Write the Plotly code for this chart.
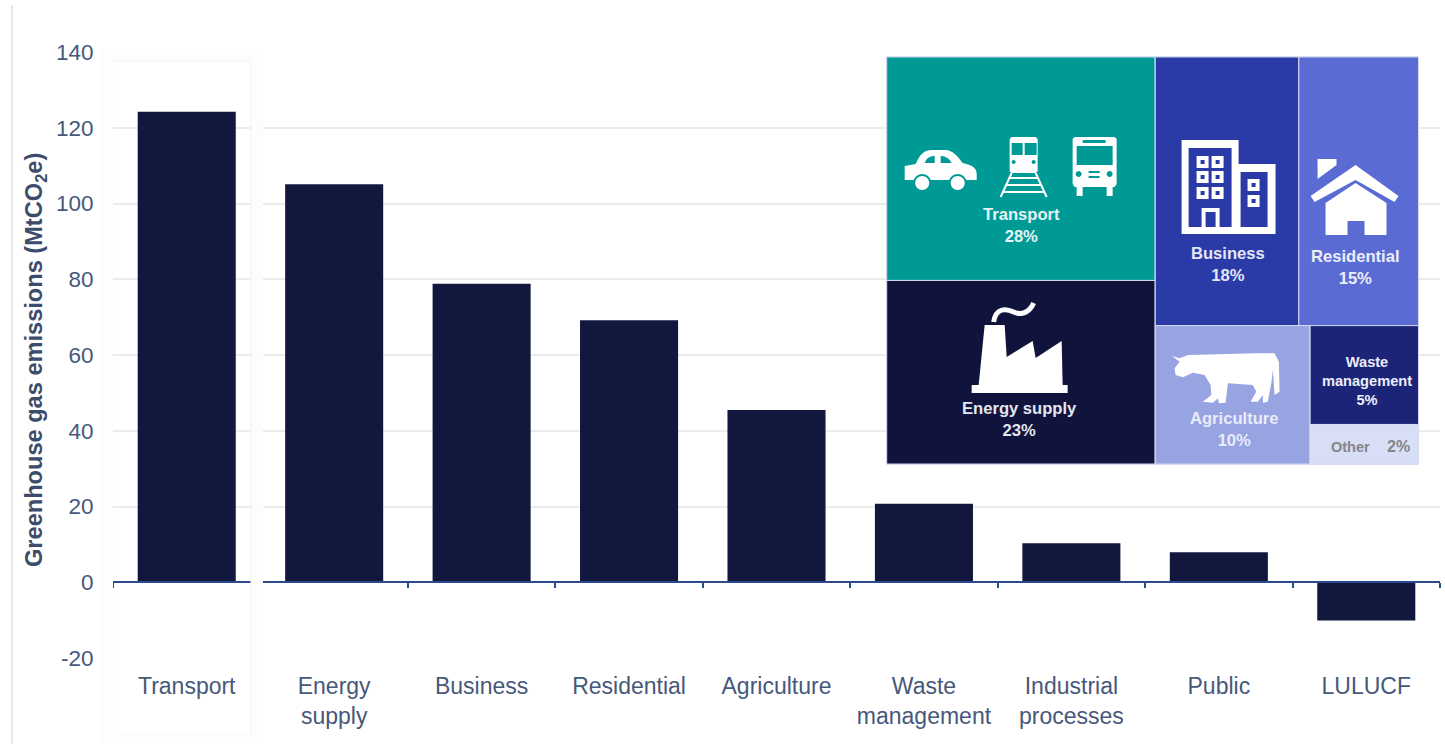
import re
import plotly.graph_objects as go

# Sector emissions, MtCO2e
categories = ["Transport", "Energy<br>supply", "Business", "Residential", "Agriculture",
              "Waste<br>management", "Industrial<br>processes", "Public", "LULUCF"]
emissions = [124.2, 105.1, 78.8, 69.2, 45.5, 20.7, 10.3, 7.9, -10.1]
y_ticks = [-20, 0, 20, 40, 60, 80, 100, 120, 140]
y_tick_labels = ["-20", "0", "20", "40", "60", "80", "100", "120", "140"]

# Share of total emissions, nested so that the tiling gives the sector blocks
share_ids = ["all", "left", "right", "Transport", "Energy supply", "upper", "lower",
             "Business", "Residential", "Agriculture", "minor", "Waste management", "Other"]
share_parents = ["", "all", "all", "left", "left", "right", "right",
                 "upper", "upper", "lower", "lower", "minor", "minor"]
share_values = [0, 0, 0, 28, 23, 0, 0, 18, 15, 10, 0, 5, 2]
share_colors = ["#ffffff", "#ffffff", "#ffffff", "#009a96", "#10143c", "#ffffff", "#ffffff",
                "#2a3ba8", "#5a6bd4", "#98a3e2", "#ffffff", "#1c2478", "#d8def5"]

NAVY = "#12173d"
AXIS_BLUE = "#2c4a8c"
TICK_TEXT = "#47587a"
GRID = "#ececec"
STRIP = "#fdfdfb"
FONT = "Liberation Sans"

W, H = 1445, 744
L, R, T, B = 113, 1440.5, 52, 658


def fx(x):
    return (x - L) / (R - L)


def fy(y):
    return 1 - (y - T) / (B - T)


def to_paper(path):
    return re.sub(r"(-?\d+\.?\d*),(-?\d+\.?\d*)",
                  lambda m: f"{fx(float(m[1])):.5f},{fy(float(m[2])):.5f}", path)


def rect(x0, y0, x1, y1):
    return f"M{x0},{y0} L{x1},{y0} L{x1},{y1} L{x0},{y1} Z "


def circle(cx, cy, r):
    k = 0.552 * r
    return (f"M{cx - r},{cy} C{cx - r},{cy - k} {cx - k},{cy - r} {cx},{cy - r} "
            f"C{cx + k},{cy - r} {cx + r},{cy - k} {cx + r},{cy} "
            f"C{cx + r},{cy + k} {cx + k},{cy + r} {cx},{cy + r} "
            f"C{cx - k},{cy + r} {cx - r},{cy + k} {cx - r},{cy} Z ")


def icon(path, fill="#ffffff"):
    return dict(type="path", xref="paper", yref="paper", path=to_paper(path), fillcolor=fill,
                fillrule="evenodd", line=dict(width=0), layer="above")


def stroke(path, width=2.0):
    return dict(type="path", xref="paper", yref="paper", path=to_paper(path),
                line=dict(color="#ffffff", width=width), layer="above")


def band(x0, y0, x1, y1, color):
    return dict(type="rect", xref="paper", yref="paper", x0=fx(x0), x1=fx(x1), y0=fy(y0), y1=fy(y1),
                fillcolor=color, line=dict(width=0), layer="above")


def label(text, cx, cy, size, color, angle=0):
    return dict(text=text, x=fx(cx), y=fy(cy), xref="paper", yref="paper", showarrow=False,
                xanchor="center", yanchor="middle", align="center", textangle=angle,
                font=dict(family=FONT, size=size, color=color))


shapes = [
    # Page rule on the far left
    band(11, 5, 13, 744, "#e9e9e9"),
    # Panel that sets the first sector apart from the rest
    band(101, 48, 263, 61, STRIP),
    band(251, 61, 263, 744, STRIP),
    band(101, 48, 113, 744, STRIP),
    band(113, 733, 251, 744, STRIP),
    band(113, 60.5, 251, 61.5, "#efefef"),
    band(250.5, 61, 251.5, 733, "#f1f1f1"),
]

# Car
shapes += [
    icon("M905,166 L916,164 C920,155 924,150 932,150 L946,150 C952,150 957,155 963,163 "
         "C971,165 977,167 977,174 L977,180 L905,180 Z "
         "M925,163 C927,158 930,156 935,156 L935,163 Z "
         "M941,156 C946,156 949,158 952,163 L941,163 Z "),
    icon(circle(922.5, 183, 9), "#009a96"), icon(circle(958, 183, 9), "#009a96"),
    icon(circle(922.5, 183, 7)), icon(circle(958, 183, 7)),
]
# Train
shapes += [
    icon("M1012,137 L1036,137 L1038,139 L1038,171 L1036,173 L1012,173 L1010,171 L1010,139 Z "
         + rect(1012, 143, 1023, 155) + rect(1025, 143, 1037, 155)
         + circle(1014, 162, 2) + circle(1034, 162, 2)),
    stroke("M1012,173 L1001,197"), stroke("M1036,173 L1047,197"),
    stroke("M1009,178 L1039,178"), stroke("M1006,185 L1042,185"), stroke("M1003,192 L1045,192"),
]
# Bus
shapes += [
    icon("M1075,137 L1115,137 L1117,139 L1117,184 L1115,187 L1113,187 L1113,196 L1107,196 L1107,187 "
         "L1083,187 L1083,196 L1077,196 L1077,187 L1075,187 L1073,184 L1073,139 Z "
         + rect(1077, 146, 1113, 165) + rect(1083, 140, 1106, 143)
         + circle(1079, 174, 3) + circle(1110, 174, 3)
         + rect(1089, 171, 1100, 173) + rect(1089, 176, 1100, 178)),
]
# Office blocks
office = rect(1182, 140, 1239, 234) + rect(1189, 148, 1232, 227)
wing = "M1239,164 L1276,164 L1276,234 L1239,234 L1239,227 L1268,227 L1268,172 L1239,172 Z "
shapes += [icon(office), icon(wing), icon(rect(1232, 227, 1239, 234))]
shapes += [icon(rect(1235.5, 164, 1241, 234))]
for wx, wy in [(1203, 162), (1218, 162), (1203, 177), (1218, 177), (1203, 193), (1218, 193),
               (1254, 185), (1254, 201)]:
    shapes.append(icon(rect(wx - 6, wy - 6, wx + 6, wy + 6) + rect(wx - 2, wy - 2, wx + 2, wy + 2)))
shapes.append(icon(rect(1202, 208, 1220, 227) + rect(1206, 212, 1216, 227)))
# House
shapes += [
    icon("M1318,159 L1337,159 L1337,165 L1318,179 Z"),
    icon("M1356,165 L1399,196 L1395,202 L1356,180 L1315,202 L1311,196 Z"),
    icon("M1356,183 L1387,203 L1387,235 L1365,235 L1365,221 L1348,221 L1348,235 L1326,235 L1326,203 Z"),
]
# Factory
shapes += [
    icon(rect(972, 385, 1068, 393)),
    icon("M979,385 L985,325 L1005,325 L1007,357 L1033,341 L1036,358 L1062,341 L1063,385 Z"),
    stroke("M994,322 C996,308 1006,308 1014,312 C1022,316 1030,312 1034,303", 5),
]
# Cow
shapes += [
    icon("M1172.7,356 L1180,358.3 L1188.3,355 L1256.7,353.3 L1275,353.3 L1279.3,361.7 L1280,391.7 "
         "L1275,395 L1273.3,370 L1271.7,383.3 L1268.3,401.7 L1263.3,402.7 L1263.3,395 L1258.3,401.7 "
         "L1251,401.7 L1256.7,391.7 L1253.3,385 L1228.3,383.3 L1226,402.7 L1219.3,403.3 L1218.3,398.3 "
         "L1213.3,402.7 L1203.3,401.7 L1211.7,395 L1211,385 L1205,375 L1193.3,372.7 L1183.3,377.3 "
         "L1176,375 L1175,368.3 L1180,361.7 Z"),
]

# Block captions: share index, centre position, colour
captions = [
    (3, 1022, 225.5, "#e6f5f4"),
    (4, 1020, 419.5, "#e4e5ee"),
    (7, 1228, 264, "#e4e6f6"),
    (8, 1356, 267, "#eceefa"),
    (9, 1235, 429, "#e8ebfa"),
]
annotations = [label(f"<b>{share_ids[i]}<br>{share_values[i]}%</b>", cx, cy, 16.6, color)
               for i, cx, cy, color in captions]
annotations += [
    label(f"<b>Waste<br>management<br>{share_values[11]}%</b>", 1367, 381, 14.6, "#eceef8"),
    label(f"<b>{share_ids[12]}</b>", 1351, 447, 14.5, "#85858a"),
    label(f"<b>{share_values[12]}%</b>", 1399, 447, 16, "#85858a"),
    label("<b>Greenhouse gas emissions (MtCO<sub>2</sub>e)</b>", 36, 360, 23.6, "#3d4c6a", angle=-90),
]

fig = go.Figure()
fig.add_bar(x=categories, y=emissions, marker=dict(color=NAVY, line=dict(width=0)), width=0.665,
            showlegend=False)
# Carries the axis drawn through zero
fig.add_scatter(x=categories, y=[0] * len(categories), xaxis="x2", mode="markers",
                marker=dict(size=1, opacity=0), showlegend=False, hoverinfo="skip")
fig.add_trace(go.Treemap(
    ids=share_ids, labels=share_ids, parents=share_parents, values=share_values,
    branchvalues="remainder", sort=False, textinfo="none", hoverinfo="label+value",
    domain=dict(x=[fx(887), fx(1419)], y=[fy(464), fy(57)]),
    tiling=dict(packing="slice-dice", pad=0),
    pathbar=dict(visible=False),
    marker=dict(colors=share_colors, depthfade=False, pad=dict(t=0, l=0, r=0, b=0),
                line=dict(color="#d5daf0", width=1)),
))

fig.update_layout(
    width=W, height=H,
    margin=dict(l=L, r=W - R, t=T, b=H - B, pad=0),
    paper_bgcolor="#ffffff", plot_bgcolor="#ffffff",
    font=dict(family=FONT, color=TICK_TEXT),
    shapes=shapes, annotations=annotations,
    xaxis=dict(type="category", categoryorder="array", categoryarray=categories, range=[-0.5, 8.5],
               showgrid=False, zeroline=False, showline=False, ticks="outside", ticklen=7,
               tickcolor="rgba(0,0,0,0)", tickfont=dict(size=23, color=TICK_TEXT), fixedrange=True),
    xaxis2=dict(type="category", categoryorder="array", categoryarray=categories, range=[-0.5, 8.5],
                overlaying="x", anchor="free", position=20 / 160, side="bottom", showticklabels=False,
                showgrid=False, zeroline=False, showline=True, linecolor=AXIS_BLUE, linewidth=2,
                ticks="outside", tickson="boundaries", ticklen=5, tickcolor=AXIS_BLUE, tickwidth=2,
                fixedrange=True),
    yaxis=dict(range=[-20, 140], tickmode="array", tickvals=y_ticks, ticktext=y_tick_labels,
               showgrid=True, gridcolor=GRID, gridwidth=2, zeroline=False, showline=False,
               ticks="outside", ticklen=14, tickcolor="rgba(0,0,0,0)",
               tickfont=dict(size=22.5, color=TICK_TEXT), fixedrange=True),
)

fig.write_html("out.html")
